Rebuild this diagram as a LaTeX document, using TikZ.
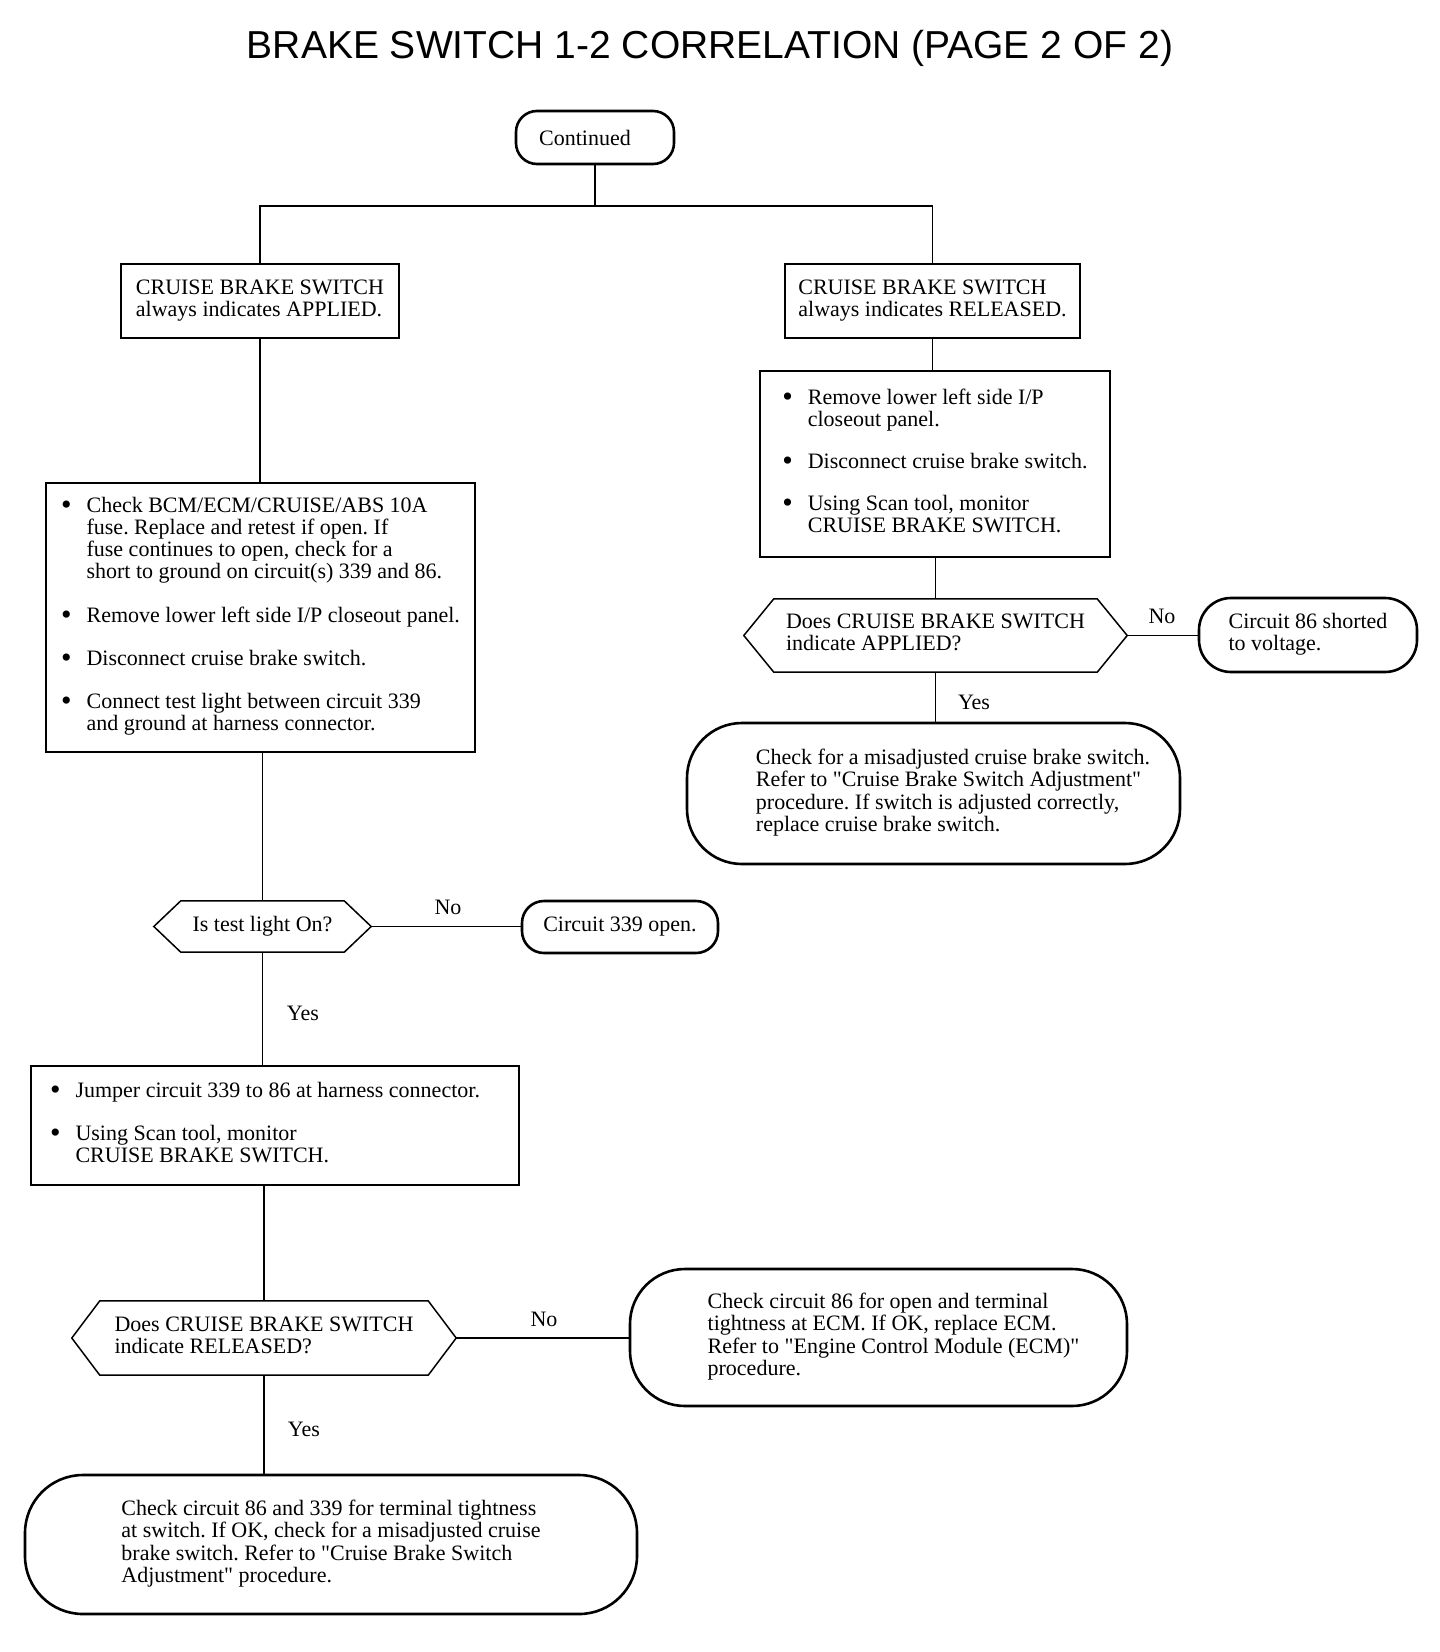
\documentclass[tikz,border=0pt]{standalone}
\usepackage{fontspec}
\setmainfont[Ligatures=TeXOff]{Liberation Serif}
\newfontfamily\titlefont{Liberation Sans}
\usetikzlibrary{calc}
\frenchspacing
\newcommand\txt{\fontsize{22}{22}\selectfont}
\newcommand\blt{\raisebox{-2pt}{\fontsize{30}{22}\selectfont\textbullet}}
\newcommand\drawhex[2]{\draw[hexline] (#1.west) -- ($(#1.north west)+(#2,0)$) -- ($(#1.north east)+(-#2,0)$) -- (#1.east) -- ($(#1.south east)+(-#2,0)$) -- ($(#1.south west)+(#2,0)$) -- cycle;}
\tikzset{
  boxnode/.style={draw, line width=2pt, rectangle, inner sep=0pt, font=\txt},
  termnode/.style={draw, line width=2.6pt, rectangle, rounded corners=#1, inner sep=0pt, font=\txt},
  hexnode/.style={rectangle, inner sep=0pt, font=\txt},
  hexline/.style={line width=1.5pt, line join=miter},
  conn/.style={line width=1.2pt},
  lab/.style={inner sep=0pt, font=\txt}
}
\begin{document}
\begin{tikzpicture}[x=1pt,y=-1pt]
\useasboundingbox (0,0) rectangle (1440,1652);
\fill[white] (0,0) rectangle (1440,1652);

\node[inner sep=0pt, font={\titlefont\fontsize{39}{39}\selectfont}] (title) at (710,48) {BRAKE SWITCH 1-2 CORRELATION (PAGE 2 OF 2)};

\node[termnode=21pt, minimum width=158pt, minimum height=53pt] (cont) at (595,137.5) {Continued\hspace*{20pt}};

\node[boxnode, minimum width=278pt, minimum height=74pt] (A1) at (260,301)
 {\begin{tabular}{@{}l@{}}CRUISE BRAKE SWITCH\\always indicates APPLIED.\end{tabular}};
\node[boxnode, minimum width=295pt, minimum height=74pt] (B1) at (932.5,301)
 {\begin{tabular}{@{}l@{}}CRUISE BRAKE SWITCH\\always indicates RELEASED.\end{tabular}};

\node[boxnode, minimum width=429pt, minimum height=269pt] (A2) at (260.5,617)
 {\begin{tabular}{@{}l@{\hspace{15pt}}l@{}}
 \blt & Check BCM/ECM/CRUISE/ABS 10A\\
 & fuse. Replace and retest if open. If\\
 & fuse continues to open, check for a\\
 & short to ground on circuit(s) 339 and 86.\\[21pt]
 \blt & Remove lower left side I/P closeout panel.\\[21pt]
 \blt & Disconnect cruise brake switch.\\[21pt]
 \blt & Connect test light between circuit 339\\
 & and ground at harness connector.
 \end{tabular}};

\node[boxnode, minimum width=350pt, minimum height=186pt] (B2) at (935,464)
 {\begin{tabular}{@{}l@{\hspace{15pt}}l@{}}
 \blt & Remove lower left side I/P\\
 & closeout panel.\\[20pt]
 \blt & Disconnect cruise brake switch.\\[20pt]
 \blt & Using Scan tool, monitor\\
 & CRUISE BRAKE SWITCH.
 \end{tabular}};

\node[hexnode, minimum width=383pt, minimum height=73pt] (B3) at (935.5,635.5)
 {\begin{tabular}{@{}l@{}}Does CRUISE BRAKE SWITCH\\indicate APPLIED?\end{tabular}};
\drawhex{B3}{30}

\node[termnode=32pt, minimum width=218pt, minimum height=74pt] (B4) at (1308,635)
 {\begin{tabular}{@{}l@{}}Circuit 86 shorted\\to voltage.\end{tabular}};

\node[termnode=55pt, minimum width=493pt, minimum height=141pt] (B5) at (933.5,793.5)
 {\hspace*{39pt}\begin{tabular}{@{}l@{}}Check for a misadjusted cruise brake switch.\\Refer to "Cruise Brake Switch Adjustment"\\procedure. If switch is adjusted correctly,\\replace cruise brake switch.\end{tabular}};

\node[hexnode, minimum width=217pt, minimum height=51pt] (A3) at (262.5,926.5) {Is test light On?};
\drawhex{A3}{27}

\node[termnode=22pt, minimum width=196pt, minimum height=52pt] (A4) at (620,927) {Circuit 339 open.};

\node[boxnode, minimum width=488pt, minimum height=119pt] (A5) at (275,1125.5)
 {\begin{tabular}{@{}l@{\hspace{15pt}}l@{}}
 \blt & Jumper circuit 339 to 86 at harness connector.\\[21pt]
 \blt & Using Scan tool, monitor\\
 & CRUISE BRAKE SWITCH.
 \end{tabular}\hspace*{20pt}};

\node[hexnode, minimum width=384pt, minimum height=74pt] (A6) at (264,1338)
 {\begin{tabular}{@{}l@{}}Does CRUISE BRAKE SWITCH\\indicate RELEASED?\end{tabular}};
\drawhex{A6}{28}

\node[termnode=55pt, minimum width=497pt, minimum height=137pt] (A7) at (878.5,1337.5)
 {\hspace*{30pt}\begin{tabular}{@{}l@{}}Check circuit 86 for open and terminal\\tightness at ECM. If OK, replace ECM.\\Refer to "Engine Control Module (ECM)"\\procedure.\end{tabular}};

\node[termnode=58pt, minimum width=612pt, minimum height=139pt] (A8) at (331,1544.5)
 {\begin{tabular}{@{}l@{}}Check circuit 86 and 339 for terminal tightness\\at switch. If OK, check for a misadjusted cruise\\brake switch. Refer to "Cruise Brake Switch\\Adjustment" procedure.\end{tabular}};

% connectors
\coordinate (split) at (595,206);
\draw[conn] (cont.south) -- (split);
\draw[conn] (split) -| (A1.north);
\draw[conn] (split) -| (B1.north);
\draw[conn] (A1.south) -- (A1.south |- A2.north);
\draw[conn] (B1.south) -- (B1.south |- B2.north);
\draw[conn] (B3.north) -- (B3.north |- B2.south);
\draw[conn] (B3.east) -- (B3.east -| B4.west);
\draw[conn] (B3.south) -- (B3.south |- B5.north);
\draw[conn] (A3.north) -- (A3.north |- A2.south);
\draw[conn] (A3.east) -- (A3.east -| A4.west);
\draw[conn] (A3.south) -- (A3.south |- A5.north);
\draw[conn] (A6.north) -- (A6.north |- A5.south);
\draw[conn] (A6.east) -- (A6.east -| A7.west);
\draw[conn] (A6.south) -- (A6.south |- A8.north);

% labels
\node[lab] (noB3) at (1162,616) {No};
\node[lab] (yesB3) at (974,702) {Yes};
\node[lab] (noA3) at (448,907) {No};
\node[lab] (yesA3) at (303,1013) {Yes};
\node[lab] (noA6) at (544,1319) {No};
\node[lab] (yesA6) at (304,1429) {Yes};
\end{tikzpicture}
\end{document}
